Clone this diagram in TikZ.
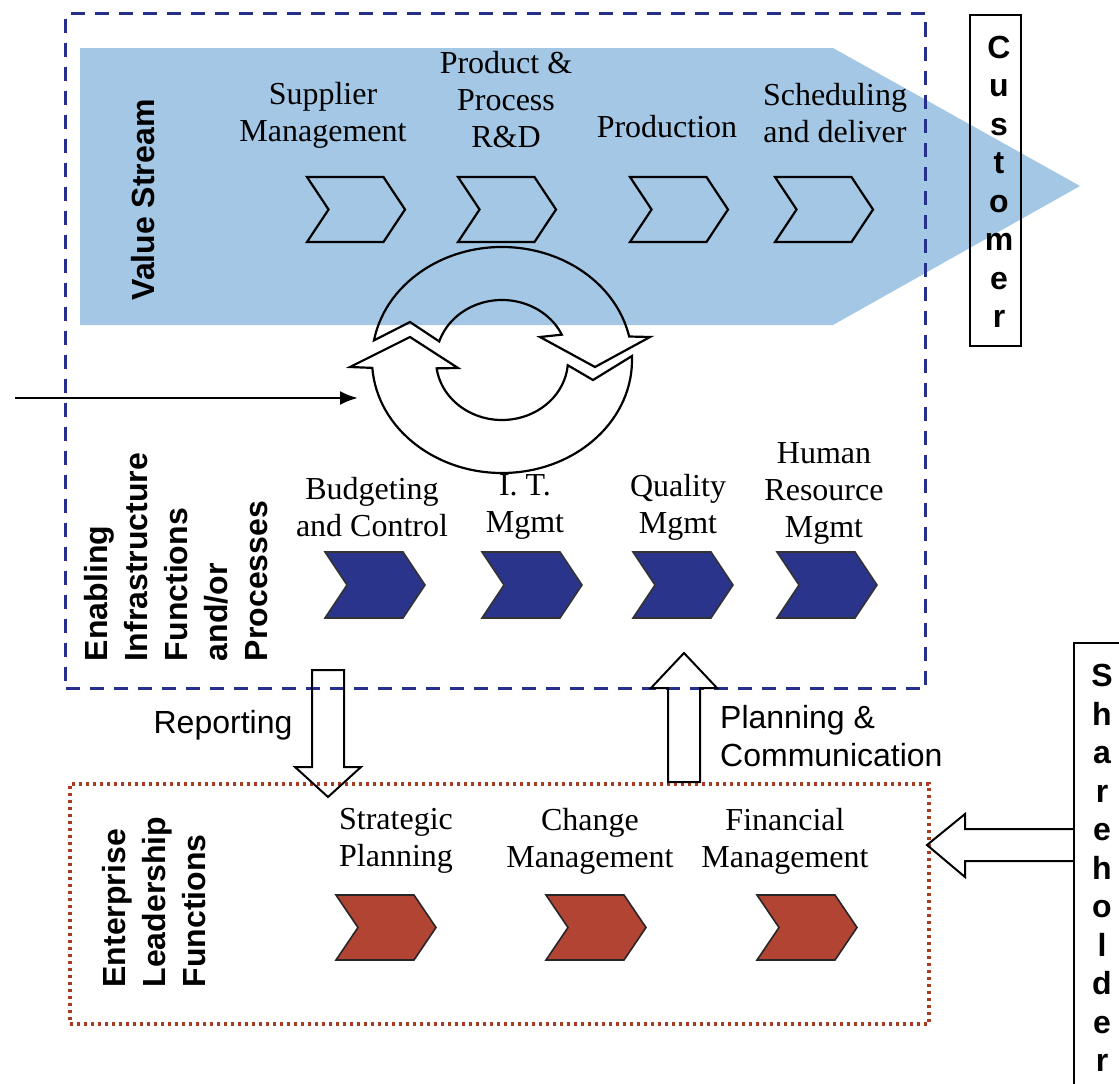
\documentclass[tikz,border=0pt]{standalone}
\usepackage{fontspec}
\setmainfont{Liberation Serif}
\setsansfont{Liberation Sans}
\usetikzlibrary{arrows.meta,calc}

\definecolor{vsblue}{RGB}{163,199,228}
\definecolor{navy}{RGB}{38,48,140}
\definecolor{chevblue}{RGB}{42,52,138}
\definecolor{chevred}{RGB}{178,68,52}
\definecolor{dotred}{RGB}{170,58,32}

\begin{document}
\begin{tikzpicture}[x=1pt,y=1pt,
  lbl/.style={font=\fontsize{32}{37}\selectfont, align=center, inner sep=0pt},
  side/.style={font=\sffamily\bfseries\fontsize{32}{40}\selectfont, align=left, rotate=90, inner sep=0pt},
  flow/.style={font=\sffamily\fontsize{32}{38}\selectfont, inner sep=0pt},
  vert/.style={font=\sffamily\bfseries\fontsize{32}{38.5}\selectfont, align=center, inner sep=0pt},
  outlinechev/.style={draw=black, line width=2.2pt, line join=miter},
  bluechev/.style={draw=black!80, fill=chevblue, line width=1.6pt, line join=miter},
  redchev/.style={draw=black!85, fill=chevred, line width=1.6pt, line join=miter},
  blockarrow/.style={draw=black, line width=2pt, line join=miter},
  cycarrow/.style={draw=black, line width=2.2pt, line join=miter},
  framebox/.style={draw=black, line width=2pt, inner sep=0pt, anchor=north west},
  pics/chevron/.style={code={
    \path[pic actions] (0,0) -- (78,0) -- (100,-33) -- (78,-66) -- (0,-66) -- (22,-33) -- cycle;}},
]
\useasboundingbox (0,0) rectangle (1119,-1084);
\clip (0,0) rectangle (1119,-1084);

% value stream band
\fill[vsblue] (80,-48) -- (833,-48) -- (1080,-186) -- (833,-325) -- (80,-325) -- cycle;

% enterprise frames
\node[draw=navy, line width=3pt, dash pattern=on 14pt off 10pt, minimum width=860pt,
      minimum height=675pt, inner sep=0pt, anchor=north west] (infra) at (64,-12) {};
\node[draw=dotred, line width=3.5pt, dash pattern=on 3pt off 4pt, minimum width=859pt,
      minimum height=240pt, inner sep=0pt, anchor=north west] (lead) at (68,-782) {};

% value stream steps
\pic[outlinechev, xscale=.98, yscale=.985] at (307,-177) {chevron};
\pic[outlinechev, xscale=.98, yscale=.985] at (458,-177) {chevron};
\pic[outlinechev, xscale=.98, yscale=.985] at (630,-177) {chevron};
\pic[outlinechev, xscale=.98, yscale=.985] at (775,-177) {chevron};

% infrastructure steps
\pic[bluechev] at (325,-552) {chevron};
\pic[bluechev] at (482,-552) {chevron};
\pic[bluechev] at (633,-552) {chevron};
\pic[bluechev] at (777,-552) {chevron};

% leadership steps
\pic[redchev, yscale=.985] at (336,-895) {chevron};
\pic[redchev, yscale=.985] at (546,-895) {chevron};
\pic[redchev, yscale=.985] at (757,-895) {chevron};

% improvement cycle
\coordinate (cyc) at (502,-360);
\draw[cycarrow] ($(cyc)+(170:130pt and 113pt)$)
  arc[start angle=170, end angle=12, x radius=130pt, y radius=113pt]
  -- (650,-337) -- (595,-367) -- (540,-337)
  -- ($(cyc)+(25:66pt and 60pt)$)
  arc[start angle=25, end angle=162, x radius=66pt, y radius=60pt]
  -- (410,-322) -- cycle;
\draw[cycarrow] ($(cyc)+(2:130pt and 113pt)$)
  arc[start angle=2, end angle=-176, x radius=130pt, y radius=113pt]
  -- (350,-367) -- (410,-337) -- (458,-368)
  -- ($(cyc)+(-172:66pt and 60pt)$)
  arc[start angle=-172, end angle=-5, x radius=66pt, y radius=60pt]
  -- (593,-380) -- cycle;

% input into the cycle
\coordinate (feed) at (15,-398);
\coordinate (cycin) at (358,-398);
\draw[line width=2.6pt, -{Latex[length=18pt,width=14pt]}] (feed) -- (cycin);

% outside parties
\node[framebox, minimum width=51pt, minimum height=331pt] (cust) at (969,-14) {};
\node[framebox, minimum width=70pt, minimum height=442pt] (share) at (1073,-642) {};

% reporting / planning / shareholder block arrows
\coordinate (repTop) at (328,-670);
\draw[blockarrow] (repTop) ++(-16,0) -- ++(32,0) -- ++(0,-97) -- ++(17,0)
  -- ++(-33,-30) -- ++(-33,30) -- ++(17,0) -- cycle;
\coordinate (planBase) at (684,-782);
\draw[blockarrow] (planBase) ++(-16,0) -- ++(0,94) -- ++(-17,0) -- ++(33,35)
  -- ++(33,-35) -- ++(-17,0) -- ++(0,-94) -- cycle;
\coordinate (shBase) at (share.west |- 0,-845);
\draw[blockarrow] (shBase) ++(0,16) -- ++(-108,0) -- ++(0,15) -- ++(-38,-31)
  -- ++(38,-32) -- ++(0,16) -- ++(108,0);

% labels
\node[side] (vsl) at (143,-200) {Value Stream};
\node[side] (eil) at (176,-557) {Enabling\\Infrastructure\\Functions\\and/or\\Processes};
\node[side] (elf) at (154,-902) {Enterprise\\Leadership\\Functions};

\node[lbl] (sup) at (323,-115) {Supplier\\Management};
\node[lbl] (prd) at (506,-100) {Product \&\\Process\\R\&D};
\node[lbl] (pro) at (667,-127) {Production};
\node[lbl] (sch) at (835,-113) {Scheduling\\and deliver};

\node[lbl] (bud) at (372,-507) {Budgeting\\and Control};
\node[lbl] (itm) at (525,-507) {I. T.\\Mgmt};
\node[lbl] (qua) at (678,-507) {Quality\\Mgmt};
\node[lbl] (hrm) at (824,-493) {Human\\Resource\\Mgmt};

\node[lbl] (stp) at (396,-841) {Strategic\\Planning};
\node[lbl] (chm) at (590,-841) {Change\\Management};
\node[lbl] (fim) at (785,-841) {Financial\\Management};

\node[flow] (rpt) at (223,-725) {Reporting};
\node[flow, align=left, anchor=west] (pc) at (720,-736) {Planning \&\\Communication};

\node[vert] (custtxt) at (999,-182) {C\\u\\s\\t\\o\\m\\e\\r};
\node[vert] (sharetxt) at (1102,-868) {S\\h\\a\\r\\e\\h\\o\\l\\d\\e\\r};
\end{tikzpicture}
\end{document}
